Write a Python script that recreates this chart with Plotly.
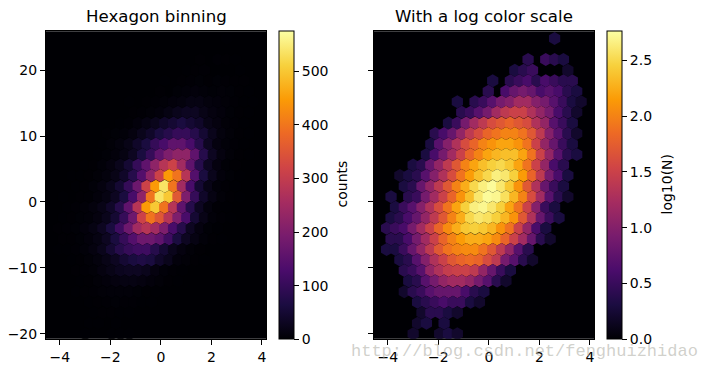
import plotly.graph_objects as go

# Hexagon lattice: values are log10(N+1) x 10, top row first.
ROW_Y = [24.8, 23.2, 21.6, 20.0, 18.4, 16.8, 15.2, 13.6, 12.0, 10.4, 8.8, 7.2, 5.6, 4.0, 2.4,
         0.8, -0.8, -2.4, -4.0, -5.6, -7.2, -8.8, -10.4, -12.0, -13.6, -15.2, -16.8, -18.4, -20.0]
COL_X_EVEN = [-4.4, -4.05, -3.7, -3.35, -3.0, -2.65, -2.3, -1.95, -1.6, -1.25, -0.9, -0.55, -0.2,
              0.15, 0.5, 0.85, 1.2, 1.55, 1.9, 2.25, 2.6, 2.95, 3.3, 3.65, 4.0]
COL_X_ODD = [-4.225, -3.875, -3.525, -3.175, -2.825, -2.475, -2.125, -1.775, -1.425, -1.075, -0.725,
             -0.375, -0.025, 0.325, 0.675, 1.025, 1.375, 1.725, 2.075, 2.425, 2.775, 3.125, 3.475,
             3.825, 4.175]
ROW_START = [20, 0, 17, 15, 13, 12, 9, 9, 8, 6, 6, 5, 4, 2, 3, 1, 2, 1, 1, 1, 1, 2, 3, 3, 3, 4, 5, 4, 4]
ROW_VALUES = [
    [3],
    [],
    [4, 0, 5, 4, 3],
    [3, 4, 5, 0, 0, 0, 2],
    [3, 0, 4, 5, 6, 4, 6, 5, 4, 4],
    [4, 0, 6, 8, 9, 8, 6, 7, 6, 4, 3],
    [3, 0, 4, 5, 7, 9, 10, 12, 12, 10, 9, 7, 5, 3, 2],
    [4, 5, 7, 9, 12, 14, 15, 15, 13, 11, 9, 6, 4, 2],
    [3, 5, 9, 12, 14, 16, 17, 18, 17, 16, 13, 11, 7, 5, 3],
    [4, 6, 8, 11, 14, 16, 18, 19, 20, 20, 19, 17, 14, 10, 7, 4, 2],
    [3, 7, 10, 13, 16, 18, 20, 21, 22, 22, 21, 19, 15, 11, 8, 5, 3],
    [3, 6, 9, 12, 15, 18, 20, 22, 23, 23.5, 23.5, 22, 19, 15, 11, 7, 4, 3],
    [3, 4, 8, 11, 14, 17, 20, 22, 23.5, 24.5, 25, 24, 22, 19, 15, 11, 6, 4],
    [2, 3, 4, 7, 10, 13, 16, 19, 21.5, 23.5, 25, 26.5, 26, 24.5, 21.5, 18, 14, 9, 6, 3],
    [3, 4, 8, 11, 14, 17, 20, 22.5, 25, 26.5, 27.3, 26, 24, 21, 17, 13, 8, 5, 3],
    [3, 0, 4, 5, 9, 12, 15, 18, 21, 23.5, 26, 27.3, 27, 25.5, 23, 20, 16, 12, 7, 4, 2],
    [3, 5, 7, 10, 13, 16, 19, 22, 24.5, 26.5, 27, 26, 24.5, 22, 19, 15, 10, 5, 3],
    [3, 4, 6, 8, 11, 14, 17, 20, 22.5, 25, 26, 25.5, 24.5, 23, 21, 17, 13, 8, 5, 3],
    [4, 5, 6, 9, 12, 15, 18, 20.5, 22.5, 24, 24.5, 24, 23, 21, 19, 15, 11, 6, 3],
    [4, 4, 6, 9, 12, 15, 18, 20, 21.5, 22.5, 22.5, 22, 20.5, 18, 15, 12, 8, 4, 2],
    [3, 3, 5, 8, 11, 14, 17, 19, 20, 20.5, 20.5, 19, 17, 14, 11, 7, 4],
    [3, 4, 7, 10, 13, 15, 17, 18, 18.5, 18, 16, 14, 9, 7, 4, 2],
    [4, 5, 7, 11, 13, 14.5, 15, 15, 14, 11, 8, 5, 3],
    [3, 4, 7, 9, 11, 12, 12, 11, 9, 7, 4, 2],
    [2, 4, 5, 7, 8, 8, 8, 6, 4, 3],
    [3, 4, 5, 6, 5, 5, 3, 2],
    [2, 4, 4, 3, 2],
    [2, 3, 0, 3],
    [2, 0, 0, 2, 3, 2],
]
LEFT_TICKS = [0, 100, 200, 300, 400, 500]
RIGHT_TICKS = [0, 0.5, 1.0, 1.5, 2.0, 2.5]
X_TICKS = [-4, -2, 0, 2, 4]
Y_TICKS = [-20, -10, 0, 10, 20]
TITLES = ["Hexagon binning", "With a log color scale"]
BAR_TITLES = ["counts", "log10(N)"]
WATERMARK = "http://blog.csdn.net/fenghuizhidao"

xs, ys, logs = [], [], []
for i, (y, start, vals) in enumerate(zip(ROW_Y, ROW_START, ROW_VALUES)):
    cols = COL_X_EVEN if i % 2 == 0 else COL_X_ODD
    for j, v in enumerate(vals):
        if v > 0:
            xs.append(cols[start + j])
            ys.append(y)
            logs.append(v / 10)
counts = [10 ** v - 1 for v in logs]

W, H = 710, 374
FONT = "DejaVu Sans"
BLACK0 = "#000004"
plot_low, plot_high = 1 - 341.5 / H, 1 - 31.5 / H


def hex_trace(xaxis, yaxis, values, cmax, ticks, bar_x):
    return go.Scatter(
        x=xs, y=ys, xaxis=xaxis, yaxis=yaxis, mode="markers", hoverinfo="skip",
        marker=dict(
            symbol="hexagon", size=13, line=dict(width=0), color=values,
            colorscale="Inferno", cmin=0, cmax=cmax,
            colorbar=dict(
                x=bar_x, xanchor="left", xref="paper", y=plot_high, yanchor="top", yref="paper",
                len=plot_high - plot_low, lenmode="fraction", thickness=15, thicknessmode="pixels",
                xpad=0, ypad=0,
                outlinecolor="black", outlinewidth=1, ticks="outside", ticklen=5, tickcolor="black",
                tickvals=ticks, tickfont=dict(family=FONT, size=14, color="black"),
                tickformat=".1f" if cmax < 10 else "d",
            ),
        ),
    )


fig = go.Figure()
fig.add_trace(hex_trace("x", "y", counts, 575, LEFT_TICKS, 279 / W))
fig.add_trace(hex_trace("x2", "y2", logs, 2.76, RIGHT_TICKS, 607 / W))

axis_common = dict(showgrid=False, zeroline=False, showline=True, mirror=True, linecolor="black",
                   linewidth=1, ticks="outside", ticklen=5, tickcolor="black",
                   tickfont=dict(family=FONT, size=14, color="black"))
label = dict(xref="paper", yref="paper", showarrow=False, xanchor="center", yanchor="middle")
fig.update_layout(
    width=W, height=H, margin=dict(l=0, r=0, t=0, b=0), paper_bgcolor="white",
    plot_bgcolor=BLACK0, showlegend=False,
    xaxis=dict(domain=[46 / W, 266 / W], range=[-4.55, 4.16], tickvals=X_TICKS, **axis_common),
    xaxis2=dict(domain=[374 / W, 594 / W], range=[-4.55, 4.16], tickvals=X_TICKS, **axis_common),
    yaxis=dict(domain=[plot_low, plot_high], range=[-20.75, 25.9], tickvals=Y_TICKS, anchor="x", **axis_common),
    yaxis2=dict(domain=[plot_low, plot_high], range=[-20.75, 25.9], tickvals=Y_TICKS, anchor="x2",
                showticklabels=False, **axis_common),
    annotations=[
        dict(text=TITLES[0], x=156 / W, y=1 - 17 / H, font=dict(family=FONT, size=16.6, color="black"), **label),
        dict(text=TITLES[1], x=484 / W, y=1 - 17 / H, font=dict(family=FONT, size=16.6, color="black"), **label),
        dict(text=BAR_TITLES[0], x=342 / W, y=1 - 186 / H, textangle=-90,
             font=dict(family=FONT, size=14, color="black"), **label),
        dict(text=BAR_TITLES[1], x=667 / W, y=1 - 186 / H, textangle=-90,
             font=dict(family=FONT, size=14, color="black"), **label),
        dict(text=WATERMARK, x=524 / W, y=1 - 354 / H,
             font=dict(family="Liberation Mono", size=17, color="rgba(170,170,160,0.55)"), **label),
    ],
)
fig.write_html("out.html", config={"displayModeBar": False},
               post_script="document.body.style.margin='0';document.body.style.overflow='hidden';")
